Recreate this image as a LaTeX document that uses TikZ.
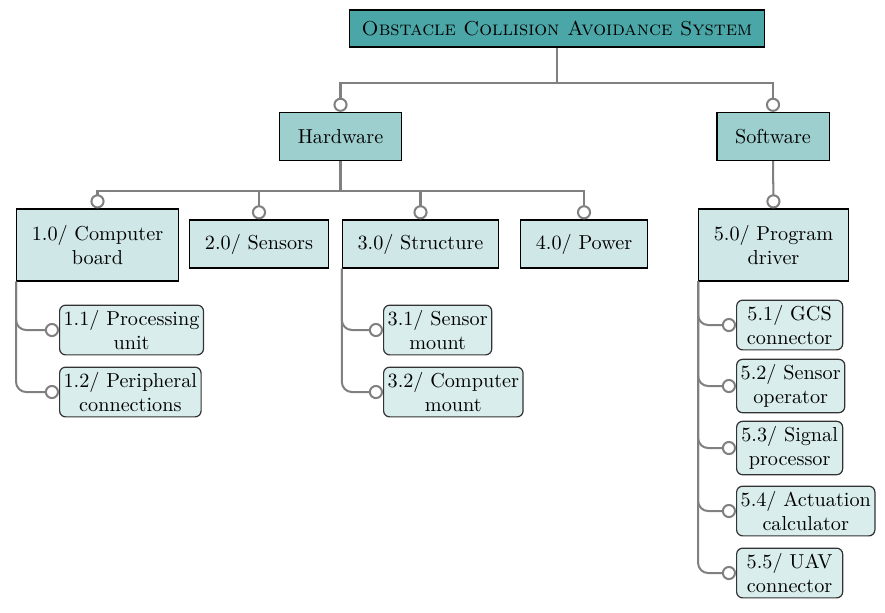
\documentclass[tikz,border=0pt]{standalone}
\usepackage{tikz}
\usetikzlibrary{arrows.meta}
\usepackage{xcolor}

\definecolor{tealdark}{HTML}{4BA7A7}
\definecolor{tealmid}{HTML}{9DCFCF}
\definecolor{teallight}{HTML}{CFE7E7}
\definecolor{tealpale}{HTML}{D9EDED}
\definecolor{linkgray}{HTML}{808080}

\tikzset{
  rootbox/.style={draw=black, fill=tealdark, line width=0.7pt, inner xsep=6pt, minimum height=18.3pt, font=\scshape},
  groupbox/.style={draw=black, fill=tealmid, line width=0.6pt, inner xsep=9pt, minimum height=23.8pt},
  itembox/.style={draw=black, fill=teallight, line width=0.6pt, inner xsep=7.5pt, minimum height=23.8pt, align=center},
  subbox/.style={draw=black!80, fill=tealpale, line width=0.6pt, rounded corners=3pt, inner xsep=2pt, inner ysep=2.5pt, minimum width=52.5pt, align=center, anchor=west},
  link/.style={draw=linkgray, line width=1pt, -{Circle[open, length=7pt]}},
  sublink/.style={link, rounded corners=5pt}
}

\begin{document}
\begin{tikzpicture}[x=0.495pt,y=-0.495pt]
\useasboundingbox (0,0) rectangle (885,612);

% top level
\node[rootbox] (oca) at (557,28.5) {Obstacle Collision Avoidance System};

\node[groupbox] (hw) at (340.5,136.5) {Hardware};
\node[groupbox] (sw) at (773,136.5) {Software};

% hardware items
\node[itembox, minimum height=35.6pt] (cb) at (97.5,245) {1.0/ Computer\\board};
\node[itembox] (sn) at (259,244) {2.0/ Sensors};
\node[itembox] (st) at (420.5,244) {3.0/ Structure};
\node[itembox] (pw) at (584,244) {4.0/ Power};

% software items
\node[itembox, minimum height=35.6pt] (pd) at (773.5,245) {5.0/ Program\\driver};

% sub items
\node[subbox] (pu) at (59,330) {1.1/ Processing\\unit};
\node[subbox] (pc) at (59,392) {1.2/ Peripheral\\connections};
\node[subbox] (sm) at (383,330) {3.1/ Sensor\\mount};
\node[subbox] (cm) at (383,392) {3.2/ Computer\\mount};
\node[subbox] (gc) at (736,325) {5.1/ GCS\\connector};
\node[subbox] (so) at (736,386) {5.2/ Sensor\\operator};
\node[subbox] (sp) at (736,448) {5.3/ Signal\\processor};
\node[subbox] (ac) at (736,511) {5.4/ Actuation\\calculator};
\node[subbox] (uc) at (736,573) {5.5/ UAV\\connector};

% connectors
\draw[link] (oca.south) -- ++(0,35) -| (hw.north);
\draw[link] (oca.south) -- ++(0,35) -| (sw.north);

\foreach \n in {cb,sn,st,pw}
  \draw[link] (hw.south) -- ++(0,30) -| (\n.north);
\draw[link] (sw.south) -- (pd.north);

\foreach \n in {pu,pc}
  \draw[sublink] (cb.south west) |- (\n.west);
\foreach \n in {sm,cm}
  \draw[sublink] (st.south west) |- (\n.west);
\foreach \n in {gc,so,sp,ac,uc}
  \draw[sublink] (pd.south west) |- (\n.west);
\end{tikzpicture}
\end{document}
